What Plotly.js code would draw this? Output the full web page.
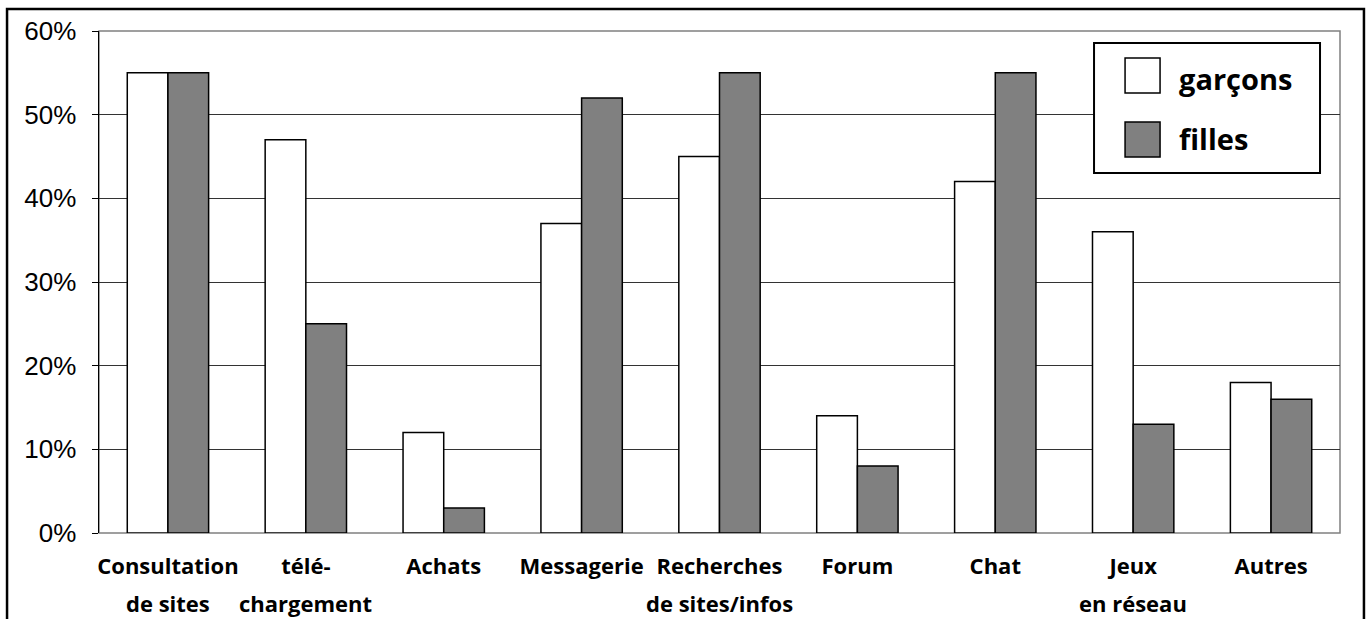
<!DOCTYPE html>
<html>
<head>
<meta charset="utf-8">
<script src="https://cdn.plot.ly/plotly-3.0.1.min.js"></script>
<style>
html,body{margin:0;padding:0;background:#fff;}
#chart{width:1371px;height:619px;}
</style>
</head>
<body>
<div id="chart"></div>
<script>
// ---- data ----
const categories = ["Consultation de sites", "télé-chargement", "Achats", "Messagerie", "Recherches de sites/infos", "Forum", "Chat", "Jeux en réseau", "Autres"];
const labelLine1 = ["Consultation", "télé-", "Achats", "Messagerie", "Recherches", "Forum", "Chat", "Jeux", "Autres"];
const labelLine2 = ["de sites", "chargement", "", "", "de sites/infos", "", "", "en réseau", ""];
const garcons = [55, 47, 12, 37, 45, 14, 42, 36, 18];
const filles  = [55, 25, 3, 52, 55, 8, 55, 13, 16];
const seriesNames = ["garçons", "filles"];
const yTickVals = [0, 10, 20, 30, 40, 50, 60];
const yTickText = ["0%", "10%", "20%", "30%", "40%", "50%", "60%"];

const colors = ["#ffffff", "#808080"];
const catFont = {family: "'Open Sans', Lato, sans-serif", size: 22, color: "#000", weight: 700};

const traces = [
  {type: "bar", name: seriesNames[0], x: categories, y: garcons,
   marker: {color: colors[0], line: {color: "#000", width: 1.5}}, showlegend: false, hoverinfo: "x+y"},
  {type: "bar", name: seriesNames[1], x: categories, y: filles,
   marker: {color: colors[1], line: {color: "#000", width: 1.5}}, showlegend: false, hoverinfo: "x+y"}
];

// custom legend (large swatches)
const legFont = {family: "'Open Sans', Lato, sans-serif", size: 29, color: "#000", weight: 700};
const shapes = [
  // plot-area frame (gray)
  {type: "rect", xref: "paper", yref: "paper", x0: 0, x1: 1, y0: 0, y1: 1, line: {color: "#808080", width: 1.5}, layer: "below"},
  // outer chart border
  {type: "rect", xref: "paper", yref: "paper", x0: -0.0741, x1: 1.0193, y0: -0.2, y1: 1.0438, line: {color: "#000", width: 2.5}},
  // legend box
  {type: "rect", xref: "paper", yref: "paper", x0: 0.8018, x1: 0.9839, y0: 0.7171, y1: 0.9761, line: {color: "#000", width: 2}, fillcolor: "#fff"},
  {type: "rect", xref: "paper", yref: "paper", x0: 0.8268, x1: 0.8550, y0: 0.8765, y1: 0.9462, line: {color: "#000", width: 1.5}, fillcolor: colors[0]},
  {type: "rect", xref: "paper", yref: "paper", x0: 0.8268, x1: 0.8550, y0: 0.7490, y1: 0.8187, line: {color: "#000", width: 1.5}, fillcolor: colors[1]}
];
const annotations = [
  {xref: "paper", yref: "paper", x: 0.8687, y: 0.905, xanchor: "left", yanchor: "middle", text: "<b>" + seriesNames[0] + "</b>", showarrow: false, font: legFont},
  {xref: "paper", yref: "paper", x: 0.8687, y: 0.786, xanchor: "left", yanchor: "middle", text: "<b>" + seriesNames[1] + "</b>", showarrow: false, font: legFont}
];
// second line of category labels
categories.forEach((c, i) => {
  if (labelLine2[i]) {
    annotations.push({xref: "x", yref: "paper", x: c, y: 0, yanchor: "middle", xanchor: "center",
      yshift: -70, text: "<b>" + labelLine2[i] + "</b>", showarrow: false, font: catFont});
  }
});

const layout = {
  width: 1371, height: 619,
  margin: {l: 99, r: 31, t: 31, b: 86, pad: 0},
  paper_bgcolor: "#fff", plot_bgcolor: "#fff",
  barmode: "group", bargap: 0.41, bargroupgap: 0,
  showlegend: false,
  xaxis: {
    tickvals: categories, ticktext: labelLine1.map(s => "<b>" + s + "</b>"),
    tickfont: catFont, ticklabelstandoff: 18,
    showgrid: false, showline: false, ticks: "", zeroline: false, fixedrange: true
  },
  yaxis: {
    range: [0, 60], tickvals: yTickVals, ticktext: yTickText,
    tickfont: {family: "'Liberation Sans', Arial, sans-serif", size: 26, color: "#000"},
    ticklabelstandoff: 10,
    showgrid: true, gridcolor: "#333333", gridwidth: 1,
    showline: true, linecolor: "#000", linewidth: 1.5,
    ticks: "outside", ticklen: 6, tickcolor: "#000", tickwidth: 1,
    zeroline: false, fixedrange: true
  },
  shapes: shapes,
  annotations: annotations
};

Plotly.newPlot("chart", traces, layout, {displayModeBar: false, staticPlot: true});
</script>
</body>
</html>
